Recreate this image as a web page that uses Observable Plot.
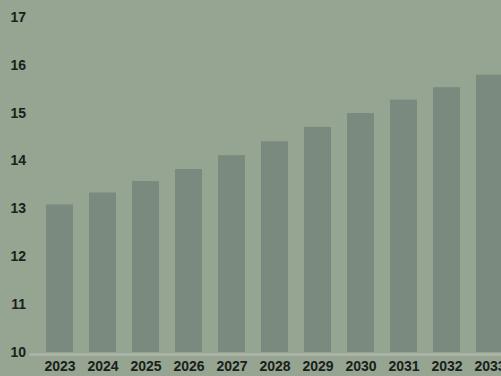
<!DOCTYPE html>
<html>
<head>
<meta charset="utf-8">
<script src="https://cdn.jsdelivr.net/npm/d3@7"></script>
<script src="https://cdn.jsdelivr.net/npm/@observablehq/plot@0.6"></script>
<style>
  html, body { margin: 0; padding: 0; overflow: hidden; background: #96a492; }
  #chart { width: 501px; height: 376px; overflow: hidden; }
  #chart svg { max-width: none !important; }
</style>
</head>
<body>
<div id="chart"></div>
<script>
const years = ["2023","2024","2025","2026","2027","2028","2029","2030","2031","2032","2033"];
const values = [13.08, 13.33, 13.57, 13.82, 14.11, 14.40, 14.70, 14.99, 15.27, 15.53, 15.79];
const yTicks = [10, 11, 12, 13, 14, 15, 16, 17];

const data = years.map((y, i) => ({year: y, value: values[i]}));

const chart = Plot.plot({
  width: 519,
  height: 376,
  marginLeft: 29.5,
  marginRight: 0,
  marginTop: 0,
  marginBottom: 24,
  style: {background: "#96a492", fontFamily: "'Liberation Sans', Arial, sans-serif", fontSize: "14px", fontWeight: "bold", color: "#1a201a", maxWidth: "none"},
  x: {domain: years, padding: 0.37, label: null, tickSize: 0, tickPadding: 9},
  y: {domain: [10, 17.35], ticks: yTicks, label: null, tickSize: 0, tickPadding: 4},
  marks: [
    Plot.barY(data, {x: "year", y1: 10, y2: "value", fill: "#7b8a7f"}),
    Plot.ruleY([10], {stroke: "#aab3a6", strokeWidth: 3, dy: 2})
  ]
});
chart.style.maxWidth = "none";
document.getElementById("chart").appendChild(chart);
</script>
</body>
</html>
